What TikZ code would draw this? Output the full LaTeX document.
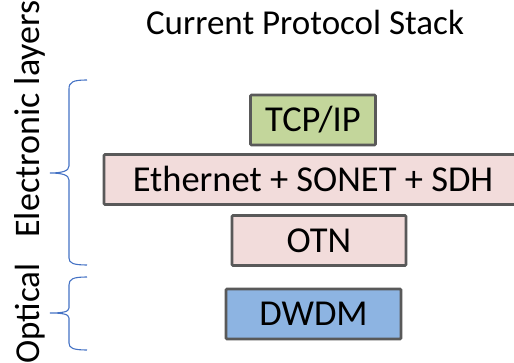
\documentclass[tikz,border=0pt]{standalone}
\usepackage{fontspec}
\setmainfont{Carlito}
\definecolor{boxline}{HTML}{595959}
\definecolor{tcpfill}{HTML}{C3D69B}
\definecolor{pinkfill}{HTML}{F2DCDB}
\definecolor{bluefill}{HTML}{8DB4E2}
\definecolor{bracecol}{HTML}{4472C4}
\begin{document}
\begin{tikzpicture}[x=1pt,y=-1pt,
  layer/.style={draw=boxline,line width=2.6pt,rounded corners=1pt,inner sep=0pt,text height=25pt,text depth=1pt,font=\fontsize{36.5}{40}\selectfont},
  bracepath/.style={draw=bracecol,line width=1.1pt},
  sidelabel/.style={rotate=90,anchor=base,font=\fontsize{36}{40}\selectfont,inner sep=0pt}]
\path[use as bounding box] (0,0) rectangle (514,363);
\node[font=\fontsize{35}{40}\selectfont,anchor=base,inner sep=0pt] (title) at (305,34.5) {Current Protocol Stack};
\node[layer,fill=tcpfill,minimum width=125pt,minimum height=50pt] (tcp) at (313,120) {TCP/IP};
\node[layer,fill=pinkfill,minimum width=418pt,minimum height=50pt] (eth) at (313,179.5) {Ethernet + SONET + SDH};
\node[layer,fill=pinkfill,minimum width=174pt,minimum height=50pt] (otn) at (319,240.5) {OTN};
\node[layer,fill=bluefill,minimum width=175pt,minimum height=50pt] (dwdm) at (313.5,314) {DWDM};
\node[sidelabel] (elec) at (39,119) {Electronic layers};
\node[sidelabel,font=\fontsize{35}{40}\selectfont] (opt) at (39,313.5) {Optical};
\path[bracepath] (87,80) .. controls (73,80) and (69,82) .. (69,89) -- (69,166) .. controls (69,171) and (62,173) .. (50,173) .. controls (62,173) and (69,175) .. (69,180) -- (69,258) .. controls (69,263) and (73,265) .. (87,265);
\path[bracepath] (87,277) .. controls (73,277) and (69,279) .. (69,285) -- (69,308) .. controls (69,312) and (62,313) .. (50,313) .. controls (62,313) and (69,314) .. (69,318) -- (69,343) .. controls (69,348) and (73,350) .. (87,350);
\end{tikzpicture}
\end{document}
